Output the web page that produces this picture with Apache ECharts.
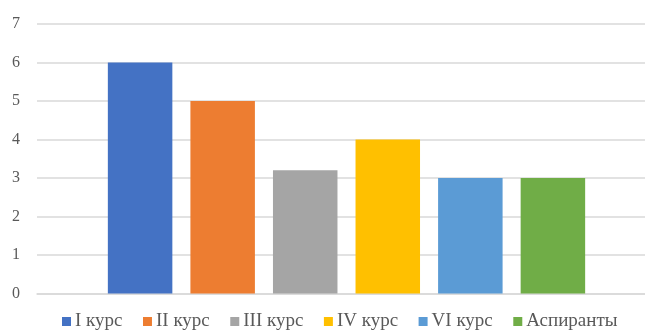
<!DOCTYPE html>
<html><head><meta charset="utf-8">
<script src="https://cdn.jsdelivr.net/npm/echarts@6/dist/echarts.min.js"></script>
<style>html,body{margin:0;padding:0;background:#fff}#c{width:645px;height:335px}</style>
</head><body><div id="c"></div>
<script>
var seriesNames = ['I курс', 'II курс', 'III курс', 'IV курс', 'VI курс', 'Аспиранты'];
var seriesValues = [6, 5, 3.2, 4, 3, 3];
var seriesColors = ['#4472C4', '#ED7D31', '#A5A5A5', '#FFC000', '#5B9BD5', '#70AD47'];
var yTicks = [0, 1, 2, 3, 4, 5, 6, 7];

var chart = echarts.init(document.getElementById('c'));
var series = seriesNames.map(function (n, i) {
  return {
    name: n, type: 'bar', data: [seriesValues[i]],
    xAxisIndex: 1, yAxisIndex: 1,
    barWidth: 64.5, barGap: '28%',
    itemStyle: { color: seriesColors[i] }
  };
});
var yMin = yTicks[0], yMax = yTicks[yTicks.length - 1];
chart.setOption({
  animation: false,
  grid: [
    { left: 37, top: 24, right: 0, height: 269.5 },
    { left: 48, top: 24, right: 0, height: 269.5 }
  ],
  legend: {
    data: seriesNames.map(function (n, i) { return { name: n, itemStyle: { color: seriesColors[i] } }; }),
    top: 312, left: 62, padding: 0,
    icon: 'rect', itemWidth: 9, itemHeight: 9, itemGap: 20.5,
    textStyle: { fontFamily: 'Liberation Serif', fontSize: 19, color: '#595959', padding: [0, 0, 0, -1] }
  },
  xAxis: [{
    gridIndex: 0, type: 'category', data: [''],
    axisLine: { lineStyle: { color: '#d9d9d9', width: 1.5 } },
    axisTick: { show: false }, axisLabel: { show: false }
  }, {
    gridIndex: 1, type: 'category', data: [''],
    axisLine: { show: false }, axisTick: { show: false }, axisLabel: { show: false }
  }],
  yAxis: [{
    gridIndex: 0, type: 'value', min: yMin, max: yMax, interval: 1,
    axisLine: { show: false }, axisTick: { show: false },
    splitLine: { lineStyle: { color: '#d9d9d9', width: 1.5 } },
    axisLabel: { fontFamily: 'Liberation Serif', fontSize: 16, color: '#595959', margin: 17 }
  }, {
    gridIndex: 1, type: 'value', min: yMin, max: yMax, interval: 1,
    axisLine: { show: false }, axisTick: { show: false },
    splitLine: { show: false }, axisLabel: { show: false }
  }],
  series: series
});
</script></body></html>
